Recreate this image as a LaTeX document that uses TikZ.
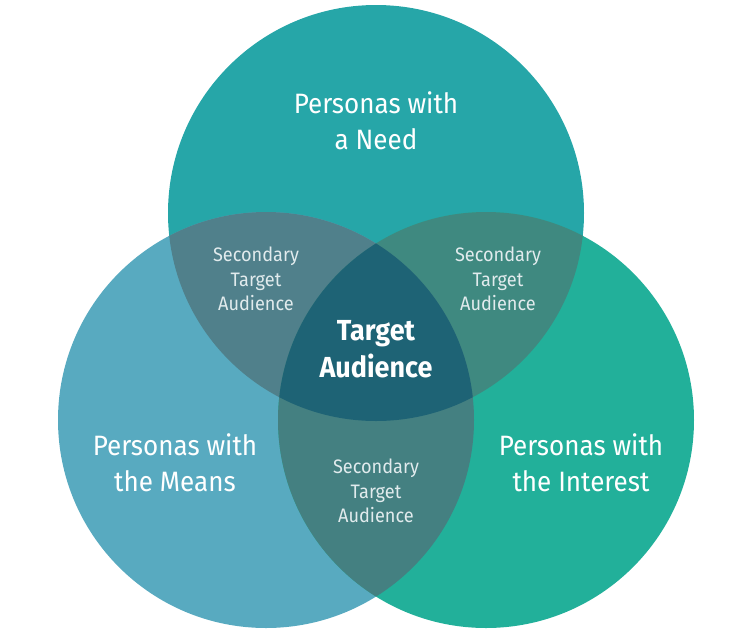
\documentclass[tikz,border=0pt]{standalone}
\usepackage{fontspec}
\setmainfont[FakeStretch=0.93]{Fira Sans}
\newfontfamily\boldcond[FakeStretch=0.93]{Fira Sans Bold}
\definecolor{ctop}{RGB}{38,166,168}
\definecolor{cleft}{RGB}{88,170,192}
\definecolor{cright}{RGB}{34,176,154}
\definecolor{ctl}{RGB}{80,128,139}
\definecolor{ctr}{RGB}{63,137,128}
\definecolor{clr}{RGB}{68,128,129}
\definecolor{ccen}{RGB}{30,99,117}
\definecolor{txt}{RGB}{255,255,255}
\definecolor{txtsec}{RGB}{225,235,237}
\begin{document}
\begin{tikzpicture}[x=1pt,y=-1pt,
  bigtxt/.style={text=txt,align=center,font=\fontsize{28}{36}\selectfont},
  sectxt/.style={text=txtsec,align=center,font=\fontsize{19.5}{24.5}\selectfont},
  centxt/.style={text=txt,align=center,font=\boldcond\fontsize{29}{37}\selectfont}]
\useasboundingbox (0,0) rectangle (753,633);
\def\ctop{(376,213) circle (208)}
\def\cleftc{(266,420) circle (208)}
\def\crightc{(486,420) circle (208)}
\fill[ctop] \ctop;
\fill[cleft] \cleftc;
\fill[cright] \crightc;
\begin{scope}\clip \ctop; \fill[ctl] \cleftc; \end{scope}
\begin{scope}\clip \ctop; \fill[ctr] \crightc; \end{scope}
\begin{scope}\clip \cleftc; \fill[clr] \crightc; \end{scope}
\begin{scope}\clip \ctop; \clip \cleftc; \fill[ccen] \crightc; \end{scope}
\node[bigtxt] (need) at (376,121) {Personas with\\a Need};
\node[bigtxt] (means) at (175,463) {Personas with\\the Means};
\node[bigtxt] (interest) at (581,463) {Personas with\\the Interest};
\node[sectxt] (stl) at (256,279) {Secondary\\Target\\Audience};
\node[sectxt] (str) at (498,279) {Secondary\\Target\\Audience};
\node[sectxt] (sb) at (376,491) {Secondary\\Target\\Audience};
\node[centxt] (ta) at (376,349) {Target\\Audience};
\end{tikzpicture}
\end{document}
